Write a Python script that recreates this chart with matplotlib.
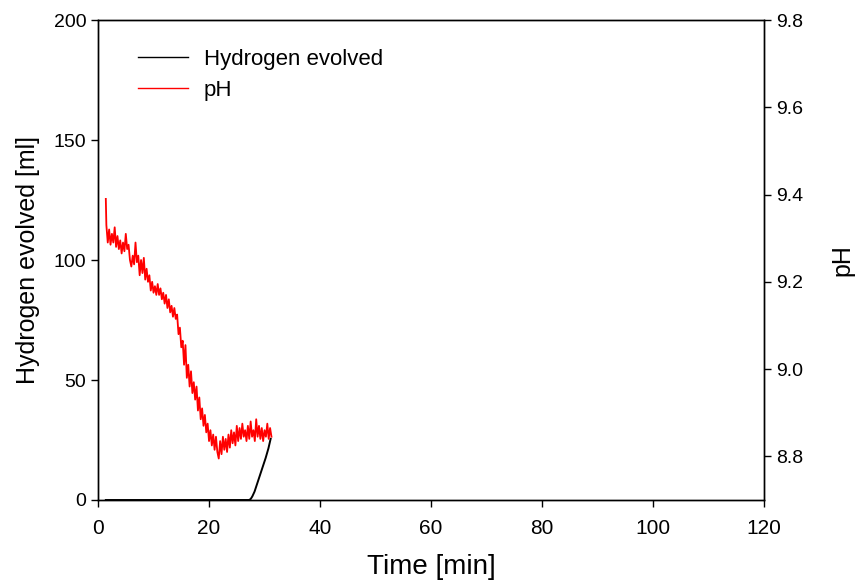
import matplotlib
matplotlib.use("Agg")
import matplotlib.pyplot as plt
from matplotlib.lines import Line2D

plt.rcParams['font.family'] = ['Liberation Sans', 'DejaVu Sans']

# hydrogen evolved [ml] vs time [min]
h2_time = [1.4, 5, 10, 15, 20, 25, 27.2, 27.5, 27.8, 28.2, 28.7, 29.2, 29.7, 30.2, 30.7, 31.1]
h2_ml = [0, 0, 0, 0, 0, 0, 0, 0.4, 1.5, 3.5, 7.0, 10.5, 14.0, 17.5, 21.5, 25.5]

# pH vs time [min]
ph_time = [1.40, 1.50, 1.75, 2.00, 2.25, 2.50, 2.75, 3.00, 3.25, 3.50, 3.75,
           4.00, 4.25, 4.50, 4.75, 5.00, 5.25, 5.50, 5.75, 6.00, 6.25, 6.50,
           6.75, 7.00, 7.25, 7.50, 7.75, 8.00, 8.25, 8.50, 8.75, 9.00, 9.25,
           9.50, 9.75, 10.00, 10.25, 10.50, 10.75, 11.00, 11.25, 11.50, 11.75,
           12.00, 12.25, 12.50, 12.75, 13.00, 13.25, 13.50, 13.75, 14.00, 14.25,
           14.50, 14.75, 15.00, 15.25, 15.50, 15.75, 16.00, 16.25, 16.50, 16.75,
           17.00, 17.25, 17.50, 17.75, 18.00, 18.25, 18.50, 18.75, 19.00, 19.25,
           19.50, 19.75, 20.00, 20.25, 20.50, 20.75, 21.00, 21.25, 21.50, 21.75,
           22.00, 22.25, 22.50, 22.75, 23.00, 23.25, 23.50, 23.75, 24.00, 24.25,
           24.50, 24.75, 25.00, 25.25, 25.50, 25.75, 26.00, 26.25, 26.50, 26.75,
           27.00, 27.25, 27.50, 27.75, 28.00, 28.25, 28.50, 28.75, 29.00, 29.25,
           29.50, 29.75, 30.00, 30.25, 30.50, 30.75, 31.00, 31.25]
ph_val = [9.39, 9.33, 9.29, 9.32, 9.285, 9.31, 9.29, 9.325, 9.28, 9.305, 9.275,
          9.295, 9.265, 9.29, 9.27, 9.31, 9.275, 9.285, 9.25, 9.235, 9.26, 9.24,
          9.29, 9.245, 9.26, 9.215, 9.25, 9.22, 9.255, 9.205, 9.23, 9.20, 9.215,
          9.18, 9.20, 9.175, 9.19, 9.17, 9.195, 9.17, 9.185, 9.16, 9.175,
          9.15, 9.17, 9.14, 9.16, 9.13, 9.145, 9.12, 9.14, 9.115, 9.125,
          9.08, 9.095, 9.05, 9.065, 9.01, 9.055, 8.98, 9.01, 8.96, 8.995,
          8.945, 8.97, 8.93, 8.96, 8.905, 8.935, 8.885, 8.91, 8.87, 8.895,
          8.855, 8.875, 8.835, 8.86, 8.825, 8.85, 8.815, 8.845, 8.81, 8.795,
          8.835, 8.805, 8.845, 8.815, 8.84, 8.81, 8.85, 8.82, 8.86, 8.83,
          8.855, 8.825, 8.87, 8.835, 8.865, 8.84, 8.875, 8.845, 8.86, 8.835,
          8.87, 8.84, 8.88, 8.845, 8.86, 8.835, 8.885, 8.845, 8.87, 8.84,
          8.865, 8.835, 8.86, 8.845, 8.875, 8.84, 8.865, 8.845]

fig = plt.figure(figsize=(8.57, 5.85), dpi=100)
ax = fig.add_axes([0.1144, 0.1453, 0.7771, 0.8205])
ax2 = ax.twinx()

ax.plot(h2_time, h2_ml, color='black', lw=1.4, zorder=3)
ax2.plot(ph_time, ph_val, color='red', lw=1.3)

ax.set_xlim(0, 120)
ax.set_ylim(0, 200)
ax2.set_ylim(8.7, 9.8)
ax.set_xticks([0, 20, 40, 60, 80, 100, 120])
ax.set_yticks([0, 50, 100, 150, 200])
ax2.set_yticks([8.8, 9.0, 9.2, 9.4, 9.6, 9.8])
ax2.set_yticklabels(['8.8', '9.0', '9.2', '9.4', '9.6', '9.8'])

for a in (ax, ax2):
    a.tick_params(direction='out', length=5, width=1, labelsize=14)
    for s in a.spines.values():
        s.set_linewidth(1.0)
ax.tick_params(axis='x', labelsize=15, pad=9)

ax.set_xlabel('Time [min]', fontsize=20, labelpad=11)
ax.set_ylabel('Hydrogen evolved [ml]', fontsize=18, labelpad=10)
ax2.set_ylabel('pH', fontsize=18, labelpad=20)

handles = [Line2D([], [], color='black', lw=1.0), Line2D([], [], color='red', lw=1.0)]
ax.legend(handles, ['Hydrogen evolved', 'pH'], loc='upper left', frameon=False,
          fontsize=16, handlelength=2.25, handletextpad=0.7, labelspacing=0.45,
          borderpad=0, borderaxespad=0, bbox_to_anchor=(0.06, 0.94))

fig.savefig('out.png', dpi=100)
